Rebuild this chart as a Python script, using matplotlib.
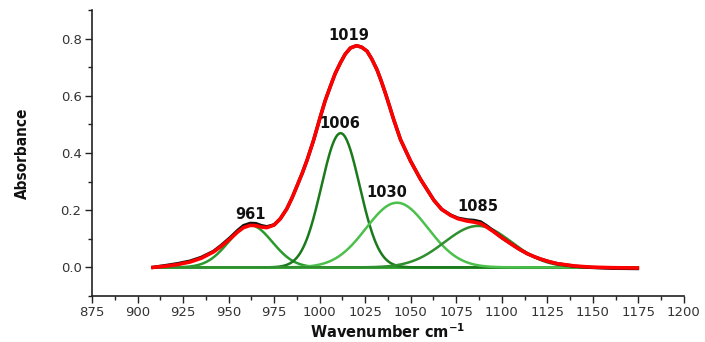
import numpy as np
import matplotlib
matplotlib.use("Agg")
import matplotlib.pyplot as plt
from matplotlib.ticker import MultipleLocator

# Measured spectrum (black) and fitted envelope (red)
wavenumber = [908.5, 915, 922, 928.9, 935, 941.7, 946, 950.9, 955, 958.2,
              961.9, 965, 968, 971, 975, 978.4, 982, 985, 987.6, 990.5,
              993.1, 996.7, 1000.4, 1003, 1005.9, 1008.5, 1011.4, 1014, 1016.9, 1020.2,
              1023, 1026, 1028.5, 1031.5, 1033.8, 1036.1, 1038.4, 1040.7, 1044.4, 1049.9,
              1055.4, 1062.7, 1067, 1071.9, 1076, 1081, 1085, 1088.4, 1092, 1095.7,
              1100, 1104.9, 1109.5, 1114, 1118, 1121.4, 1126, 1130.5, 1140, 1148.9,
              1160, 1174.5]
fit_envelope = [0.000, 0.004, 0.010, 0.019, 0.032, 0.054, 0.074, 0.100, 0.124, 0.139,
                0.147, 0.146, 0.141, 0.139, 0.148, 0.170, 0.205, 0.245, 0.285, 0.330,
                0.375, 0.445, 0.527, 0.582, 0.633, 0.677, 0.715, 0.745, 0.767, 0.775,
                0.770, 0.756, 0.730, 0.691, 0.652, 0.609, 0.563, 0.516, 0.447, 0.372,
                0.308, 0.235, 0.203, 0.182, 0.170, 0.162, 0.158, 0.153, 0.140, 0.124,
                0.104, 0.083, 0.064, 0.048, 0.037, 0.029, 0.020, 0.013, 0.005, 0.001,
                -0.001, -0.002]
spectrum = [0.000, 0.006, 0.013, 0.022, 0.035, 0.056, 0.077, 0.104, 0.129, 0.146,
            0.154, 0.153, 0.146, 0.142, 0.149, 0.170, 0.205, 0.245, 0.285, 0.330,
            0.375, 0.445, 0.527, 0.582, 0.633, 0.677, 0.715, 0.745, 0.767, 0.775,
            0.770, 0.756, 0.730, 0.691, 0.652, 0.609, 0.563, 0.516, 0.447, 0.372,
            0.308, 0.235, 0.203, 0.183, 0.172, 0.166, 0.164, 0.159, 0.144, 0.126,
            0.104, 0.083, 0.064, 0.048, 0.037, 0.029, 0.020, 0.013, 0.004, 0.000,
            -0.003, -0.004]

# Gaussian component bands: centre, height, width (sigma)
band_centres = [962.0, 1011.5, 1042.5, 1087.0]
band_heights = [0.147, 0.469, 0.226, 0.145]
band_sigmas = [12.0, 10.5, 17.0, 18.5]
band_colors = ["#2a9a2a", "#1b7a1b", "#4cc04c", "#2f8f2f"]

# Peak annotations (baseline positions)
peak_labels = ["961", "1019", "1006", "1030", "1085"]
label_x = [962, 1016, 1011, 1037, 1087]
label_y = [0.168, 0.794, 0.488, 0.246, 0.198]

x_start, x_end = 908.5, 1174.5

fig = plt.figure(figsize=(7.05, 3.42), dpi=100)
ax = fig.add_axes([0.1305, 0.1345, 0.8395, 0.8365])

xs = np.linspace(x_start, x_end, 600)
ax.plot([x_start, x_end], [0, 0], color="#3cb83c", lw=2.0, zorder=2)
for c, h, s, col in zip(band_centres, band_heights, band_sigmas, band_colors):
    ax.plot(xs, h * np.exp(-(xs - c) ** 2 / (2 * s ** 2)), color=col, lw=1.8, zorder=3)

ax.plot(wavenumber, spectrum, color="#111111", lw=2.4, zorder=4,
        solid_joinstyle="round")
ax.plot(wavenumber, fit_envelope, color="#ff0000", lw=2.6, zorder=5,
        solid_joinstyle="round")

for t, lx, ly in zip(peak_labels, label_x, label_y):
    ax.text(lx, ly, t, ha="center", va="baseline", fontsize=10.5,
            fontweight="bold", color="#111111", zorder=6)

ax.set_xlim(875, 1200)
ax.set_ylim(-0.1, 0.9)
ax.xaxis.set_major_locator(MultipleLocator(25))
ax.xaxis.set_minor_locator(MultipleLocator(12.5))
ax.yaxis.set_major_locator(MultipleLocator(0.2))
ax.yaxis.set_minor_locator(MultipleLocator(0.1))
ax.set_yticks([0.0, 0.2, 0.4, 0.6, 0.8])
ax.set_yticklabels(["0.0", "0.2", "0.4", "0.6", "0.8"])
ax.tick_params(axis="both", which="major", length=5, width=1.0, labelsize=9.5,
               colors="#222222", labelcolor="#333333", pad=2.5)
ax.tick_params(axis="both", which="minor", length=3, width=1.0, colors="#222222")
for side in ("top", "right"):
    ax.spines[side].set_visible(False)
for side in ("left", "bottom"):
    ax.spines[side].set_linewidth(1.2)
    ax.spines[side].set_color("#222222")

ax.set_xlabel("Wavenumber cm$^{\\mathbf{-1}}$", fontsize=10.5, fontweight="bold",
              color="#111111", labelpad=2)
ax.set_ylabel("Absorbance", fontsize=11, fontweight="bold", color="#111111",
              fontstretch="condensed", labelpad=22)

fig.savefig("out.png", dpi=100)
